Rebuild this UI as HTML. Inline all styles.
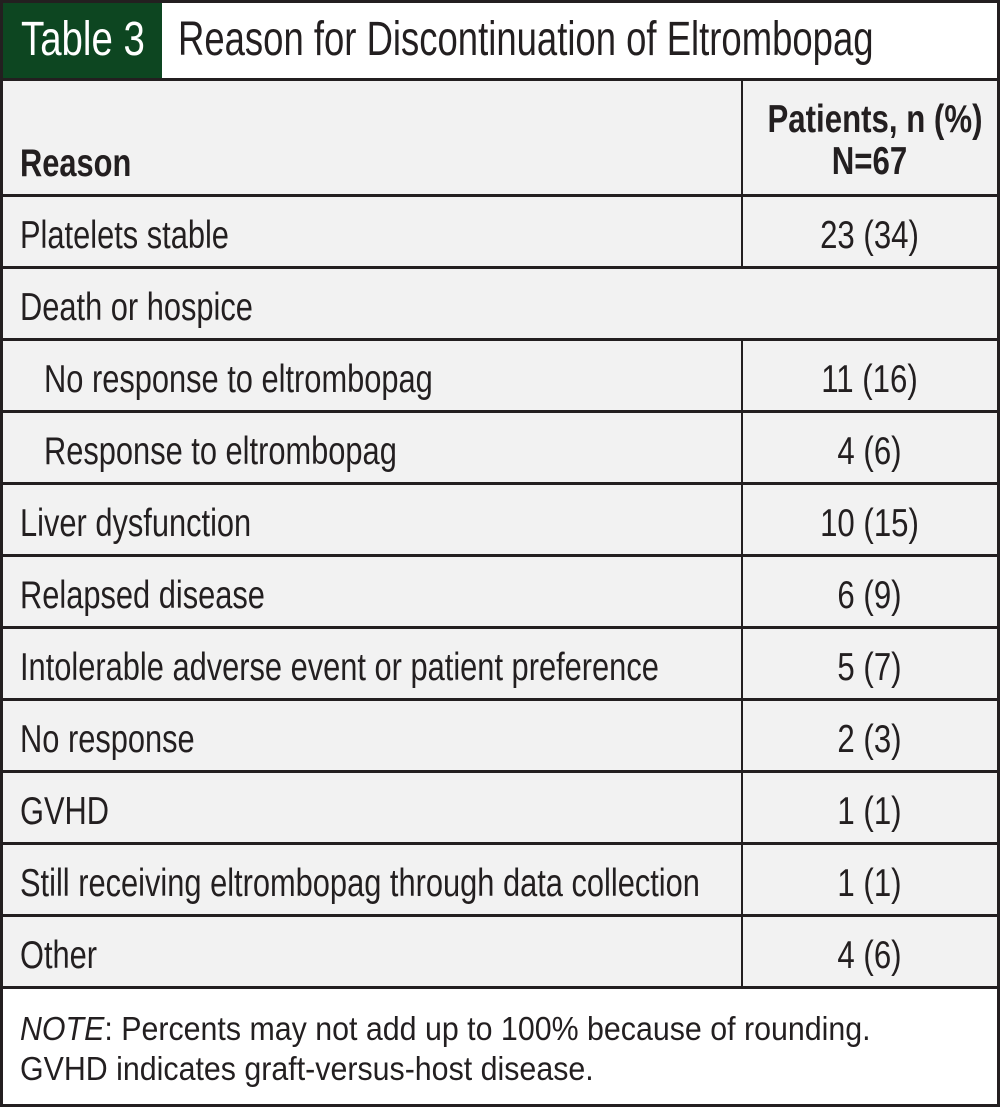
<!DOCTYPE html>
<html><head><meta charset="utf-8"><style>
*{margin:0;padding:0;box-sizing:border-box}
body{width:1000px;height:1107px;background:#fff;position:relative;overflow:hidden;font-family:"Liberation Sans",sans-serif;color:#231f20}
.a{position:absolute}
.t{position:absolute;font-size:39px;line-height:44px;white-space:nowrap;transform:scaleX(0.79);transform-origin:0 50%}
.h{position:absolute;left:0;width:1000px;height:3px;background:#231f20}
.c{position:absolute;left:742px;width:255px;text-align:center;font-size:39px;line-height:44px;white-space:nowrap;transform:scaleX(0.8);transform-origin:50% 50%}
</style></head><body>
<div class="a" style="left:0;top:0;width:1000px;height:1107px;border:3px solid #231f20"></div>
<div class="a" style="left:3px;top:3px;width:159px;height:75px;background:#0d4621"></div>
<div class="t" style="left:21px;top:14px;color:#fff;font-size:48px;line-height:52px;transform:scaleX(0.8)">Table 3</div>
<div class="t" style="left:178px;top:14px;font-size:48px;line-height:52px;transform:scaleX(0.76)">Reason for Discontinuation of Eltrombopag</div>
<div class="a" style="left:3px;top:80px;width:994px;height:907px;background:#f2f2f2"></div>
<div class="h" style="top:78px"></div>
<div class="a" style="left:741px;top:80px;width:2px;height:187px;background:#231f20"></div>
<div class="a" style="left:741px;top:339px;width:2px;height:648px;background:#231f20"></div>
<div class="h" style="top:194px"></div><div class="h" style="top:266px"></div><div class="h" style="top:338px"></div><div class="h" style="top:410px"></div><div class="h" style="top:482px"></div><div class="h" style="top:554px"></div><div class="h" style="top:626px"></div><div class="h" style="top:698px"></div><div class="h" style="top:770px"></div><div class="h" style="top:842px"></div><div class="h" style="top:914px"></div><div class="h" style="top:986px"></div>
<div class="t" style="left:20px;top:142px;font-weight:bold">Reason</div>
<div class="c" style="top:98px;font-weight:bold">Patients, n (%)</div>
<div class="c" style="top:140px;font-weight:bold">N=67</div>
<div class="t" style="left:20px;top:214px">Platelets stable</div><div class="c" style="top:214px">23 (34)</div>
<div class="t" style="left:20px;top:286px">Death or hospice</div>
<div class="t" style="left:44px;top:358px">No response to eltrombopag</div><div class="c" style="top:358px">11 (16)</div>
<div class="t" style="left:44px;top:430px">Response to eltrombopag</div><div class="c" style="top:430px">4 (6)</div>
<div class="t" style="left:20px;top:502px">Liver dysfunction</div><div class="c" style="top:502px">10 (15)</div>
<div class="t" style="left:20px;top:574px">Relapsed disease</div><div class="c" style="top:574px">6 (9)</div>
<div class="t" style="left:20px;top:646px">Intolerable adverse event or patient preference</div><div class="c" style="top:646px">5 (7)</div>
<div class="t" style="left:20px;top:718px">No response</div><div class="c" style="top:718px">2 (3)</div>
<div class="t" style="left:20px;top:790px">GVHD</div><div class="c" style="top:790px">1 (1)</div>
<div class="t" style="left:20px;top:862px">Still receiving eltrombopag through data collection</div><div class="c" style="top:862px">1 (1)</div>
<div class="t" style="left:20px;top:934px">Other</div><div class="c" style="top:934px">4 (6)</div>
<div class="t" style="left:20px;top:1010px;font-size:33px;line-height:38px;transform:scaleX(0.92)"><i>NOTE</i>: Percents may not add up to 100% because of rounding.</div>
<div class="t" style="left:20px;top:1050px;font-size:33px;line-height:38px;transform:scaleX(0.92)">GVHD indicates graft-versus-host disease.</div>
</body></html>
